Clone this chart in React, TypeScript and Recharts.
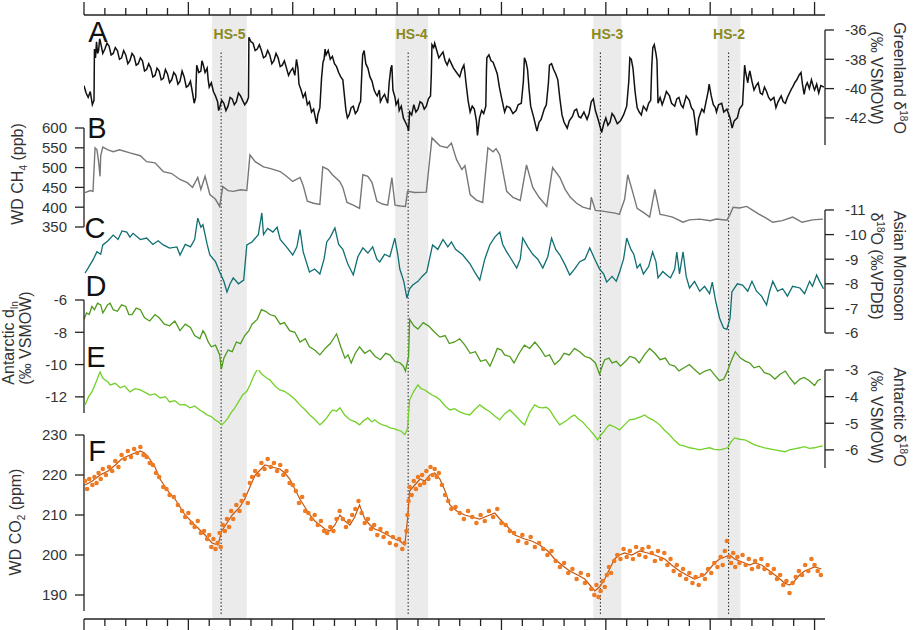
import React from "react";
import { ComposedChart, Line, Scatter, XAxis, YAxis, ReferenceArea, ReferenceLine } from "recharts";

// Layered proxy records, age in ka (older on the left). Each panel is its own chart stacked on one frame.
const W = 923, H = 630;
const PL = 84, PR = 98; // plot gutters so every panel shares the same x scale
const FONT = "'Liberation Sans', Arial, Helvetica, sans-serif";
const AGE_DOMAIN = [19.5, 55];
const AGE_TICKS = [55, 54, 53, 52, 51, 50, 49, 48, 47, 46, 45, 44, 43, 42, 41, 40, 39, 38, 37, 36, 35,
  34, 33, 32, 31, 30, 29, 28, 27, 26, 25, 24, 23, 22, 21, 20];

const HS_NAMES = ["HS-5", "HS-4", "HS-3", "HS-2"];
const HS_START = [48.86, 40.09, 30.6, 24.65];
const HS_END = [47.2, 38.51, 29.26, 23.55];
const HS_MARK = [48.43, 39.47, 30.26, 24.12];

// A — Greenland δ18O (‰)
const greenland = [[55.0,-39.8],[54.9,-40.3],[54.8,-40.6],[54.7,-40.2],[54.6,-41.1],[54.52,-40.8],[54.5,-37.3],[54.45,-37.9],[54.4,-36.8],[54.35,-37.6],[54.3,-37.4],[54.25,-36.6],[54.2,-36.9],[54.1,-37.6],[54.0,-37.3],[53.9,-36.9],[53.8,-37.1],[53.7,-37.7],[53.6,-37.6],[53.5,-37.2],[53.4,-37.4],[53.3,-38.0],[53.2,-37.9],[53.1,-37.4],[53.0,-37.7],[52.9,-38.3],[52.8,-38.1],[52.7,-37.6],[52.6,-37.8],[52.5,-38.4],[52.4,-38.3],[52.3,-37.9],[52.2,-38.1],[52.1,-38.8],[52.0,-38.7],[51.9,-38.3],[51.8,-38.6],[51.7,-39.2],[51.6,-39.1],[51.5,-38.6],[51.4,-38.8],[51.3,-39.4],[51.2,-39.3],[51.1,-38.7],[51.0,-39.0],[50.9,-39.6],[50.8,-39.4],[50.7,-38.9],[50.6,-39.1],[50.5,-39.7],[50.4,-39.5],[50.3,-38.8],[50.2,-39.2],[50.1,-39.9],[50.0,-39.8],[49.9,-39.5],[49.8,-40.3],[49.72,-41.0],[49.65,-40.6],[49.6,-38.4],[49.5,-38.9],[49.4,-38.8],[49.35,-38.1],[49.3,-38.3],[49.2,-38.9],[49.1,-38.6],[49.05,-39.4],[49.0,-39.9],[48.9,-39.6],[48.8,-40.2],[48.7,-40.5],[48.6,-40.9],[48.55,-41.5],[48.5,-41.3],[48.4,-40.8],[48.3,-41.0],[48.2,-41.5],[48.1,-41.2],[48.0,-40.6],[47.9,-40.7],[47.8,-41.1],[47.7,-40.9],[47.6,-40.3],[47.5,-40.5],[47.4,-40.8],[47.3,-41.1],[47.2,-40.9],[47.12,-40.6],[47.1,-36.5],[47.0,-36.8],[46.9,-36.9],[46.8,-37.4],[46.7,-37.3],[46.6,-37.0],[46.5,-37.4],[46.4,-37.9],[46.3,-37.8],[46.2,-37.4],[46.1,-37.7],[46.0,-38.3],[45.9,-38.1],[45.8,-37.6],[45.7,-37.9],[45.6,-38.5],[45.5,-38.4],[45.4,-38.1],[45.3,-38.6],[45.2,-39.1],[45.1,-38.8],[45.0,-38.6],[44.9,-39.1],[44.82,-38.0],[44.75,-38.6],[44.7,-39.7],[44.6,-40.1],[44.5,-40.6],[44.4,-40.3],[44.3,-41.1],[44.2,-40.9],[44.1,-41.6],[44.0,-41.4],[43.9,-42.1],[43.85,-42.4],[43.8,-41.8],[43.7,-41.3],[43.62,-39.3],[43.55,-38.2],[43.5,-38.0],[43.45,-37.3],[43.4,-37.7],[43.3,-37.4],[43.2,-38.0],[43.1,-37.8],[43.0,-38.3],[42.9,-38.5],[42.8,-38.9],[42.7,-39.2],[42.6,-39.4],[42.5,-40.8],[42.45,-41.5],[42.38,-42.0],[42.3,-41.8],[42.2,-41.3],[42.1,-41.2],[42.0,-41.7],[41.9,-41.5],[41.8,-41.0],[41.75,-40.9],[41.68,-38.6],[41.65,-37.7],[41.58,-37.4],[41.5,-38.3],[41.4,-38.6],[41.3,-39.2],[41.2,-39.5],[41.1,-40.1],[41.0,-40.4],[40.95,-40.5],[40.85,-40.1],[40.8,-40.9],[40.7,-40.6],[40.6,-40.4],[40.5,-40.8],[40.45,-41.0],[40.38,-39.6],[40.3,-38.6],[40.25,-38.4],[40.2,-40.1],[40.1,-40.6],[40.05,-41.1],[39.95,-40.8],[39.9,-41.5],[39.8,-41.2],[39.7,-42.0],[39.6,-42.3],[39.5,-42.6],[39.45,-42.9],[39.4,-41.6],[39.3,-41.8],[39.2,-41.1],[39.1,-41.6],[39.0,-41.4],[38.9,-40.9],[38.8,-41.0],[38.7,-41.4],[38.6,-41.2],[38.5,-40.7],[38.4,-40.5],[38.36,-39.0],[38.33,-37.0],[38.25,-37.2],[38.2,-36.9],[38.1,-37.4],[38.0,-37.9],[37.9,-37.7],[37.8,-37.5],[37.7,-38.1],[37.6,-38.4],[37.5,-38.0],[37.4,-38.3],[37.3,-38.6],[37.15,-38.9],[37.0,-39.2],[36.9,-38.7],[36.8,-38.4],[36.75,-38.9],[36.7,-39.6],[36.6,-40.8],[36.5,-41.6],[36.4,-41.2],[36.3,-41.4],[36.2,-42.2],[36.15,-43.2],[36.05,-42.0],[35.95,-41.5],[35.85,-41.7],[35.75,-41.2],[35.72,-38.8],[35.7,-37.9],[35.6,-37.7],[35.5,-38.1],[35.4,-38.2],[35.3,-38.6],[35.2,-39.0],[35.1,-39.9],[35.0,-40.6],[34.85,-41.6],[34.75,-41.2],[34.6,-41.3],[34.45,-41.7],[34.3,-41.5],[34.2,-41.1],[34.05,-41.0],[33.95,-39.5],[33.9,-37.9],[33.82,-38.2],[33.75,-38.7],[33.68,-40.0],[33.6,-41.2],[33.45,-42.0],[33.3,-42.9],[33.2,-42.3],[33.1,-42.1],[32.95,-41.4],[32.85,-41.1],[32.75,-39.6],[32.7,-38.4],[32.6,-38.3],[32.5,-38.7],[32.4,-39.0],[32.3,-39.4],[32.2,-40.7],[32.1,-41.8],[32.0,-42.3],[31.85,-42.7],[31.75,-42.2],[31.6,-41.9],[31.5,-41.5],[31.4,-41.4],[31.3,-41.9],[31.2,-42.0],[31.05,-41.6],[30.9,-42.1],[30.8,-41.7],[30.7,-40.9],[30.6,-40.7],[30.5,-41.5],[30.35,-42.2],[30.2,-43.0],[30.1,-42.4],[30.0,-42.0],[29.9,-42.5],[29.8,-42.3],[29.7,-41.7],[29.6,-41.9],[29.45,-42.4],[29.3,-42.2],[29.15,-41.8],[29.0,-41.2],[28.9,-39.5],[28.85,-37.9],[28.78,-38.0],[28.7,-38.6],[28.6,-40.2],[28.5,-41.3],[28.4,-41.6],[28.3,-41.8],[28.2,-41.2],[28.05,-41.5],[27.95,-41.0],[27.85,-40.8],[27.8,-38.5],[27.75,-37.2],[27.68,-37.0],[27.6,-37.6],[27.55,-38.1],[27.5,-41.0],[27.4,-40.6],[27.3,-41.1],[27.2,-40.7],[27.1,-40.2],[26.95,-40.5],[26.85,-41.0],[26.7,-41.2],[26.6,-40.7],[26.5,-40.6],[26.4,-41.1],[26.3,-41.3],[26.15,-40.5],[26.0,-40.8],[25.9,-41.3],[25.8,-41.5],[25.72,-42.3],[25.65,-43.2],[25.55,-42.0],[25.4,-41.4],[25.3,-41.6],[25.2,-40.9],[25.1,-40.2],[25.05,-39.7],[24.95,-40.5],[24.85,-41.1],[24.75,-41.3],[24.7,-41.6],[24.6,-41.1],[24.45,-41.0],[24.35,-41.6],[24.2,-41.4],[24.05,-42.0],[23.95,-42.7],[23.85,-42.2],[23.7,-42.0],[23.6,-41.4],[23.45,-41.1],[23.4,-39.8],[23.35,-38.4],[23.3,-38.9],[23.2,-39.6],[23.15,-39.1],[23.1,-38.8],[23.0,-39.5],[22.9,-40.1],[22.8,-39.8],[22.7,-39.6],[22.6,-40.3],[22.5,-40.4],[22.4,-39.9],[22.3,-40.2],[22.2,-40.6],[22.1,-40.8],[21.95,-40.6],[21.85,-41.3],[21.75,-40.9],[21.6,-40.5],[21.5,-40.9],[21.4,-41.0],[21.3,-40.6],[21.2,-40.3],[21.1,-40.0],[21.05,-39.9],[20.95,-39.6],[20.85,-39.4],[20.75,-39.1],[20.65,-38.9],[20.58,-39.7],[20.5,-40.4],[20.42,-39.8],[20.35,-39.6],[20.25,-40.0],[20.15,-39.4],[20.05,-39.9],[20.0,-40.1],[19.9,-39.7],[19.8,-40.3],[19.7,-39.8],[19.55,-39.9]];

// B — WAIS Divide CH4 (ppb)
const ch4 = [[54.95,437],[54.7,442],[54.57,440],[54.47,550],[54.38,545],[54.3,515],[54.23,478],[54.2,530],[54.1,552],[53.85,545],[53.6,540],[53.3,545],[52.8,537],[52.3,530],[52.0,515],[51.6,512],[51.2,490],[50.8,485],[50.4,470],[50.05,462],[49.8,450],[49.55,475],[49.4,445],[49.2,478],[48.97,432],[48.7,420],[48.5,402],[48.35,452],[48.1,442],[47.85,440],[47.5,444],[47.2,442],[47.05,532],[46.8,515],[46.4,502],[46.1,498],[45.6,490],[45.3,478],[45.0,465],[44.65,475],[44.5,455],[44.3,415],[44.0,410],[43.7,407],[43.56,502],[43.3,495],[43.1,482],[42.75,465],[42.6,450],[42.4,412],[42.1,405],[41.8,397],[41.64,482],[41.4,478],[41.2,462],[40.97,415],[40.7,408],[40.45,405],[40.25,475],[40.1,405],[39.85,403],[39.6,402],[39.5,440],[39.15,437],[38.6,438],[38.33,575],[37.95,555],[37.6,550],[37.4,562],[37.15,520],[36.9,495],[36.75,505],[36.5,432],[36.2,418],[35.9,412],[35.65,550],[35.4,540],[35.26,548],[35.08,532],[34.75,440],[34.45,425],[34.1,417],[33.8,507],[33.5,450],[33.2,425],[32.83,402],[32.55,500],[32.2,475],[31.95,445],[31.7,425],[31.4,410],[31.1,400],[30.75,395],[30.7,425],[30.5,392],[30.15,390],[29.8,387],[29.55,385],[29.35,382],[29.1,420],[28.95,482],[28.75,445],[28.5,397],[28.15,385],[27.9,375],[27.65,445],[27.4,382],[27.2,380],[26.8,375],[26.3,362],[26.0,368],[25.5,370],[25.0,366],[24.7,370],[24.2,367],[24.05,382],[23.9,400],[23.6,398],[23.25,402],[22.9,390],[22.65,382],[22.3,372],[22.0,362],[21.55,366],[21.05,375],[20.8,368],[20.6,362],[20.1,368],[19.6,370]];

// C — Asian monsoon speleothem δ18O (‰ VPDB)
const monsoon = [[54.95,-8.44],[54.76,-8.7],[54.57,-8.97],[54.38,-9.3],[54.2,-9.2],[54.1,-9.58],[53.85,-9.75],[53.6,-9.98],[53.37,-9.8],[53.18,-10.15],[52.95,-10.1],[52.8,-9.9],[52.65,-10.05],[52.3,-9.8],[52.0,-9.86],[51.7,-9.6],[51.45,-9.75],[51.2,-9.58],[50.9,-9.45],[50.55,-9.5],[50.4,-9.17],[50.15,-9.6],[49.9,-9.5],[49.7,-9.8],[49.55,-10.67],[49.4,-10.3],[49.3,-10.4],[49.1,-9.6],[48.97,-9.17],[48.7,-8.9],[48.5,-8.48],[48.3,-8.1],[48.15,-7.67],[48.0,-8.0],[47.85,-8.24],[47.6,-8.0],[47.35,-8.15],[47.2,-9.58],[46.95,-9.7],[46.65,-10.0],[46.48,-10.88],[46.4,-10.0],[46.2,-10.25],[45.95,-10.1],[45.75,-10.3],[45.6,-9.8],[45.3,-9.5],[45.0,-9.17],[44.8,-9.5],[44.65,-10.2],[44.5,-9.3],[44.2,-8.48],[43.95,-8.6],[43.7,-8.4],[43.5,-9.0],[43.37,-9.7],[43.2,-9.9],[42.98,-10.27],[42.8,-9.6],[42.6,-9.4],[42.36,-8.8],[42.1,-8.36],[41.88,-9.1],[41.64,-9.46],[41.4,-9.25],[41.17,-9.5],[40.97,-9.0],[40.83,-8.89],[40.6,-9.2],[40.35,-9.1],[40.11,-9.86],[39.97,-9.2],[39.87,-8.6],[39.68,-8.1],[39.53,-7.42],[39.4,-7.8],[39.25,-7.95],[39.0,-8.1],[38.8,-8.3],[38.58,-8.48],[38.3,-9.58],[38.05,-9.4],[37.8,-9.8],[37.57,-9.5],[37.4,-9.7],[37.2,-9.4],[36.85,-9.17],[36.5,-8.8],[36.23,-8.4],[36.04,-8.15],[35.8,-9.0],[35.56,-9.58],[35.32,-9.9],[35.08,-10.1],[34.94,-9.6],[34.75,-9.3],[34.6,-9.1],[34.27,-8.64],[34.1,-9.0],[33.98,-9.86],[33.74,-9.5],[33.5,-9.2],[33.26,-9.0],[33.02,-8.64],[32.78,-9.1],[32.6,-9.86],[32.4,-9.4],[32.2,-9.17],[31.97,-8.8],[31.73,-8.36],[31.5,-8.6],[31.25,-8.9],[31.0,-9.0],[30.77,-9.46],[30.53,-9.0],[30.3,-8.6],[30.1,-8.4],[29.96,-8.07],[29.7,-8.3],[29.5,-8.1],[29.34,-8.48],[29.15,-9.0],[29.0,-9.86],[28.8,-9.4],[28.66,-9.2],[28.5,-8.64],[28.36,-8.8],[28.2,-8.4],[27.95,-8.7],[27.76,-9.29],[27.6,-8.9],[27.5,-8.24],[27.27,-8.5],[27.0,-8.3],[26.9,-8.24],[26.7,-8.6],[26.6,-9.29],[26.47,-8.4],[26.3,-9.3],[26.15,-8.3],[25.99,-7.83],[25.75,-8.1],[25.5,-7.7],[25.27,-7.9],[25.03,-7.6],[24.9,-8.07],[24.74,-7.3],[24.55,-6.6],[24.36,-6.2],[24.2,-6.15],[24.05,-6.6],[23.96,-7.67],[23.7,-8.0],[23.45,-7.95],[23.2,-7.7],[23.0,-8.1],[22.78,-7.7],[22.54,-7.5],[22.3,-7.14],[22.15,-7.7],[22.0,-8.1],[21.77,-7.7],[21.53,-7.8],[21.3,-7.5],[21.05,-7.9],[20.7,-7.83],[20.48,-7.6],[20.24,-8.1],[20.1,-7.9],[19.9,-8.36],[19.76,-8.1],[19.57,-7.8]];

// D — Antarctic dln (‰)
const dln = [[55.0,-7.2],[54.88,-6.8],[54.75,-6.9],[54.62,-6.4],[54.5,-6.6],[54.35,-6.2],[54.2,-6.3],[54.1,-6.8],[54.0,-6.6],[53.88,-6.3],[53.75,-6.2],[53.6,-6.6],[53.4,-6.7],[53.2,-6.3],[53.0,-6.4],[52.85,-6.9],[52.7,-6.9],[52.5,-6.5],[52.3,-6.6],[52.1,-7.1],[51.85,-7.3],[51.6,-6.9],[51.4,-7.1],[51.15,-7.5],[50.9,-7.6],[50.65,-7.3],[50.4,-7.9],[50.15,-7.5],[49.9,-7.7],[49.7,-8.2],[49.45,-8.4],[49.3,-7.9],[49.2,-8.1],[49.05,-8.6],[48.9,-8.9],[48.7,-8.8],[48.5,-9.4],[48.42,-10.3],[48.3,-9.6],[48.1,-9.1],[47.9,-9.2],[47.7,-8.6],[47.5,-8.7],[47.3,-8.2],[47.1,-7.9],[46.95,-7.5],[46.7,-7.2],[46.5,-6.6],[46.3,-6.7],[46.1,-6.9],[45.85,-7.0],[45.6,-7.5],[45.4,-7.4],[45.15,-7.9],[44.9,-8.0],[44.65,-8.6],[44.4,-8.4],[44.2,-8.9],[43.95,-9.1],[43.7,-9.4],[43.45,-9.0],[43.2,-8.7],[43.05,-8.4],[42.9,-8.1],[42.7,-8.9],[42.5,-9.6],[42.35,-9.4],[42.2,-9.9],[42.0,-9.3],[41.8,-8.9],[41.55,-9.3],[41.3,-9.1],[41.05,-9.5],[40.8,-9.7],[40.55,-9.3],[40.35,-9.4],[40.1,-9.8],[39.85,-9.9],[39.7,-10.1],[39.6,-10.4],[39.45,-9.5],[39.4,-7.2],[39.2,-7.6],[39.0,-7.8],[38.75,-7.4],[38.5,-7.6],[38.2,-8.0],[37.95,-8.3],[37.7,-8.2],[37.5,-8.7],[37.25,-8.6],[37.0,-8.4],[36.75,-8.8],[36.5,-9.3],[36.25,-9.2],[36.0,-9.8],[35.75,-9.7],[35.55,-10.1],[35.35,-9.5],[35.2,-9.0],[35.0,-9.1],[34.85,-9.4],[34.6,-9.5],[34.4,-9.9],[34.15,-9.3],[33.9,-8.8],[33.65,-9.0],[33.4,-8.6],[33.15,-9.0],[32.9,-9.5],[32.7,-9.4],[32.45,-10.0],[32.2,-9.7],[32.0,-9.3],[31.75,-9.4],[31.5,-9.0],[31.25,-9.2],[31.0,-9.5],[30.75,-9.6],[30.5,-9.9],[30.3,-10.6],[30.15,-10.0],[30.05,-9.7],[29.85,-9.6],[29.7,-9.9],[29.5,-9.8],[29.3,-10.1],[29.05,-9.8],[28.85,-9.5],[28.6,-9.6],[28.4,-9.9],[28.15,-9.4],[27.9,-9.0],[27.65,-9.3],[27.4,-9.7],[27.15,-9.6],[26.95,-10.0],[26.7,-10.1],[26.5,-10.4],[26.25,-10.2],[26.0,-10.0],[25.75,-10.3],[25.5,-10.6],[25.25,-10.4],[25.0,-10.3],[24.75,-10.7],[24.55,-11.0],[24.35,-10.9],[24.2,-10.5],[24.0,-9.8],[23.8,-9.2],[23.55,-9.6],[23.3,-9.8],[23.1,-9.9],[22.9,-10.2],[22.65,-10.1],[22.4,-10.5],[22.15,-10.6],[21.9,-10.9],[21.65,-10.6],[21.4,-10.4],[21.2,-10.8],[20.95,-11.2],[20.7,-10.9],[20.5,-10.8],[20.25,-11.0],[20.0,-11.3],[19.85,-11.0],[19.7,-10.9]];

// E — Antarctic δ18O (‰ VSMOW)
const antO18 = [[54.95,-4.31],[54.78,-4.0],[54.62,-3.82],[54.42,-3.45],[54.23,-3.07],[54.1,-3.3],[54.0,-3.37],[53.85,-3.45],[53.75,-3.56],[53.5,-3.5],[53.27,-3.67],[53.05,-3.6],[52.8,-3.82],[52.55,-3.7],[52.3,-3.75],[52.05,-3.85],[51.85,-3.94],[51.6,-3.9],[51.35,-4.05],[51.1,-4.0],[50.9,-4.2],[50.65,-4.15],[50.4,-4.31],[50.15,-4.3],[49.92,-4.42],[49.7,-4.35],[49.45,-4.5],[49.25,-4.6],[49.1,-4.69],[48.9,-4.75],[48.73,-4.87],[48.55,-4.95],[48.4,-5.06],[48.25,-4.95],[48.1,-4.8],[47.95,-4.6],[47.77,-4.42],[47.6,-4.2],[47.4,-3.94],[47.2,-3.8],[47.05,-3.56],[46.85,-3.2],[46.67,-2.93],[46.55,-3.1],[46.43,-3.19],[46.25,-3.3],[46.1,-3.37],[45.85,-3.6],[45.62,-3.75],[45.4,-3.8],[45.14,-3.94],[44.9,-4.1],[44.66,-4.31],[44.4,-4.5],[44.18,-4.69],[43.95,-4.85],[43.7,-5.06],[43.55,-4.95],[43.37,-4.8],[43.2,-4.6],[43.08,-4.5],[42.9,-4.55],[42.74,-4.42],[42.5,-4.7],[42.26,-4.87],[42.0,-4.95],[41.8,-5.06],[41.6,-4.9],[41.4,-4.8],[41.2,-4.95],[41.07,-4.87],[40.9,-4.98],[40.7,-5.06],[40.5,-5.1],[40.35,-5.17],[40.15,-5.2],[40.0,-5.25],[39.8,-5.3],[39.63,-5.43],[39.5,-5.2],[39.4,-4.12],[39.2,-3.8],[39.0,-3.56],[38.85,-3.7],[38.67,-3.75],[38.5,-3.85],[38.33,-3.94],[38.15,-4.0],[37.95,-4.12],[37.7,-4.35],[37.47,-4.5],[37.25,-4.45],[37.0,-4.57],[36.75,-4.65],[36.52,-4.69],[36.3,-4.5],[36.04,-4.31],[35.8,-4.45],[35.56,-4.57],[35.3,-4.75],[35.08,-4.87],[34.85,-4.65],[34.6,-4.5],[34.4,-4.65],[34.22,-4.8],[34.05,-4.95],[33.89,-5.06],[33.65,-4.6],[33.41,-4.31],[33.2,-4.4],[33.03,-4.42],[32.85,-4.4],[32.69,-4.5],[32.45,-4.8],[32.21,-5.06],[32.0,-4.95],[31.83,-4.87],[31.65,-4.75],[31.5,-4.69],[31.3,-4.85],[31.11,-4.95],[30.95,-5.1],[30.77,-5.25],[30.55,-5.45],[30.39,-5.62],[30.25,-5.45],[30.1,-5.32],[29.95,-5.15],[29.82,-5.06],[29.55,-5.15],[29.34,-5.25],[29.1,-5.05],[28.86,-4.87],[28.65,-4.85],[28.48,-4.8],[28.3,-4.75],[28.14,-4.69],[27.95,-4.8],[27.76,-4.87],[27.6,-4.95],[27.42,-5.06],[27.2,-5.25],[26.95,-5.43],[26.7,-5.65],[26.47,-5.81],[26.25,-5.85],[25.99,-5.92],[25.75,-5.95],[25.5,-6.0],[25.25,-5.95],[25.03,-5.92],[24.8,-5.98],[24.55,-6.0],[24.35,-5.96],[24.16,-5.92],[24.0,-5.7],[23.83,-5.55],[23.6,-5.6],[23.35,-5.62],[23.1,-5.72],[22.87,-5.81],[22.6,-5.88],[22.39,-5.92],[22.15,-5.96],[21.91,-6.0],[21.65,-6.04],[21.43,-6.07],[21.2,-6.0],[20.95,-5.96],[20.7,-5.92],[20.48,-5.88],[20.25,-5.94],[20.0,-5.92],[19.8,-5.88],[19.6,-5.85]];

// F — WAIS Divide CO2 (ppm): smoothed curve and individual measurements
const co2Curve = [[54.95,217.5],[54.6,218.5],[54.23,220],[53.85,221],[53.5,222.5],[53.2,224],[52.8,225],[52.3,226],[52.1,225.5],[51.85,224],[51.6,222],[51.36,219],[50.98,216],[50.64,214],[50.16,210],[49.69,207.5],[49.2,205],[48.87,203],[48.58,202.5],[48.4,206],[48.15,208],[47.9,210],[47.53,212],[47.3,214],[47.05,217],[46.8,220],[46.33,222.5],[46.0,222],[45.62,221.5],[45.38,220.5],[45.14,219],[44.9,216.5],[44.66,214],[44.42,212],[44.18,210],[43.94,208.5],[43.7,207.5],[43.46,206.5],[43.22,206],[42.98,207.5],[42.74,210],[42.5,208.5],[42.26,207.5],[42.03,209.5],[41.8,212.5],[41.55,209],[41.3,207.5],[41.07,206.5],[40.83,206],[40.45,205],[40.1,204],[39.87,203.5],[39.63,202.5],[39.5,209],[39.4,216],[39.15,217.5],[38.9,219],[38.67,218.5],[38.43,220],[38.2,220.5],[37.95,219],[37.7,216],[37.47,212.5],[37.14,211],[36.76,210],[36.42,209.5],[36.04,209],[35.8,209.5],[35.56,210],[35.32,210.5],[35.08,209],[34.7,207],[34.36,205],[33.89,204],[33.55,203.5],[33.17,202.5],[32.78,201],[32.45,199],[32.11,197.5],[31.73,196],[31.35,195],[31.01,194],[30.77,192.5],[30.53,191],[30.3,192],[30.05,194],[29.82,196.5],[29.58,199],[29.34,200],[29.1,200.5],[28.76,200],[28.38,201],[28.0,200.5],[27.66,200],[27.42,199.5],[27.18,199],[26.85,197.5],[26.47,196],[26.13,195],[25.75,194],[25.5,194.5],[25.27,195],[25.03,196.5],[24.79,198],[24.55,199],[24.3,199.5],[24.07,200],[23.83,199],[23.59,198.5],[23.35,198],[23.11,197.5],[22.87,198],[22.54,197.5],[22.16,196],[21.77,194.5],[21.44,193],[21.2,192.5],[20.96,193.5],[20.72,195],[20.48,196],[20.24,196.5],[20.0,197],[19.67,196.5]];
const co2Samples = [[54.95,218.5],[54.85,216.5],[54.75,219],[54.6,217.5],[54.5,219.5],[54.4,218],[54.3,220.5],[54.2,219],[54.1,221.5],[53.95,220],[53.8,222],[53.65,221],[53.5,223.5],[53.35,222],[53.2,225],[53.05,224],[52.9,226],[52.75,224.5],[52.6,226.5],[52.45,225.5],[52.3,227],[52.15,225],[52.0,224.5],[51.85,223],[51.7,222.5],[51.55,220.5],[51.4,219.5],[51.2,217],[51.05,216.5],[50.9,215],[50.7,214.5],[50.5,212.5],[50.3,211],[50.15,209.5],[50.0,210.5],[49.85,208],[49.7,207],[49.55,208.5],[49.4,205.5],[49.25,206],[49.1,204],[49.0,205],[48.9,202],[48.8,204],[48.7,201.5],[48.6,203],[48.5,205.5],[48.45,202],[48.35,207.5],[48.25,206],[48.15,209],[48.05,207],[47.95,211],[47.85,209],[47.7,212.5],[47.55,211],[47.45,213.5],[47.3,215],[47.15,213],[47.05,218],[46.95,219.5],[46.8,221],[46.65,220],[46.5,223],[46.35,221.5],[46.2,224],[46.05,222],[45.9,223],[45.75,221],[45.6,222.5],[45.45,220],[45.3,221],[45.15,218],[45.0,217.5],[44.85,216],[44.7,213],[44.55,214.5],[44.4,211],[44.25,210.5],[44.1,209],[43.95,210],[43.8,207.5],[43.65,208.5],[43.5,206],[43.35,205.5],[43.2,207],[43.05,206],[42.9,209],[42.75,211],[42.6,209],[42.45,207],[42.3,208.5],[42.15,210],[42.0,211.5],[41.85,213.5],[41.7,210.5],[41.55,208],[41.4,209],[41.25,206.5],[41.1,207.5],[40.95,205],[40.8,206.5],[40.65,204.5],[40.5,205.5],[40.35,203],[40.2,204.5],[40.05,202.5],[39.9,204],[39.75,201.5],[39.65,203],[39.55,206],[39.5,210],[39.45,213.5],[39.4,217],[39.3,215],[39.2,218.5],[39.1,216.5],[39.0,219.5],[38.9,217.5],[38.8,220],[38.7,218],[38.6,221],[38.5,219],[38.4,222],[38.3,220],[38.2,221.5],[38.1,219.5],[38.0,220.5],[37.85,217.5],[37.7,215],[37.55,213.5],[37.4,211.5],[37.2,212],[37.0,210.5],[36.8,209],[36.6,211],[36.4,209.5],[36.2,208],[36.0,210],[35.8,208.5],[35.6,211],[35.4,209.5],[35.2,211.5],[35.0,208],[34.8,207.5],[34.6,206],[34.4,205.5],[34.2,203.5],[34.0,205],[33.8,203],[33.6,204.5],[33.4,202],[33.2,203],[33.0,201.5],[32.8,200],[32.6,201],[32.4,198.5],[32.2,197],[32.0,198],[31.8,195.5],[31.6,196.5],[31.4,194],[31.2,195.5],[31.0,193],[30.85,195],[30.7,191.5],[30.55,190],[30.45,192.5],[30.35,189.5],[30.25,191],[30.15,193.5],[30.05,192],[29.95,195],[29.85,197],[29.75,195.5],[29.6,198.5],[29.45,200],[29.3,199],[29.15,201.5],[29.0,199.5],[28.85,201],[28.7,199],[28.55,202],[28.4,200],[28.25,201.5],[28.1,199.5],[27.95,202],[27.8,200.5],[27.65,198.5],[27.5,201],[27.35,199],[27.2,200.5],[27.05,197.5],[26.9,199],[26.75,196],[26.6,197.5],[26.45,195],[26.3,196.5],[26.15,194],[26.0,195.5],[25.85,193],[25.7,194.5],[25.55,192.5],[25.4,195],[25.25,194],[25.1,196.5],[24.95,195.5],[24.8,198],[24.65,197],[24.5,199.5],[24.4,197.5],[24.3,201],[24.2,203.5],[24.1,199.5],[24.0,198],[23.9,200.5],[23.8,197],[23.7,199.5],[23.6,198],[23.45,200],[23.3,197.5],[23.15,199],[23.0,196.5],[22.85,198.5],[22.7,197],[22.55,199],[22.4,196.5],[22.25,197.5],[22.1,195.5],[21.95,196.5],[21.8,194],[21.65,195],[21.5,192.5],[21.35,193.5],[21.2,190.5],[21.05,193],[20.9,194.5],[20.75,196],[20.6,195],[20.45,197.5],[20.3,196],[20.15,199],[20.0,197.5],[19.85,196],[19.7,195]];

const pts = (a: number[][]) => a.map(([age, v]) => ({ age, v }));
// the frame charts draw no series; they only need rows so the axis scales resolve
const hsRows = HS_MARK.map((age, i) => ({ age, name: HS_NAMES[i], v: 0 }));

const ageTick = (dir: number) => (p: any) => {
  const major = Math.round(p.payload.value) % 5 === 0;
  return <line x1={p.x} x2={p.x} y1={p.y} y2={p.y + dir * (major ? 13 : 7)} stroke="#222" strokeWidth={1.3} />;
};

function Frame() {
  return (
    <ComposedChart width={W} height={H} data={hsRows} margin={{ top: 0, bottom: 0, left: PL, right: PR }}>
      <XAxis xAxisId="t" dataKey="age" orientation="top" type="number" domain={AGE_DOMAIN} reversed allowDataOverflow
             ticks={AGE_TICKS} interval={0} height={15} tickSize={0} tickMargin={0}
             tick={ageTick(-1)} tickLine={false} axisLine={{ stroke: "#222", strokeWidth: 1.3 }} />
      <XAxis xAxisId="b" dataKey="age" orientation="bottom" type="number" domain={AGE_DOMAIN} reversed allowDataOverflow
             ticks={AGE_TICKS} interval={0} height={11} tickSize={0} tickMargin={0}
             tick={ageTick(1)} tickLine={false} axisLine={{ stroke: "#222", strokeWidth: 1.3 }} />
      <YAxis hide dataKey="v" type="number" domain={[0, 1]} allowDataOverflow />
      {HS_NAMES.map((n, i) => (
        <ReferenceArea key={n} xAxisId="t" x1={HS_START[i]} x2={HS_END[i]} fill="#ebebeb" fillOpacity={1} stroke="none"
          ifOverflow="visible"
          label={{ value: n, position: "insideTop", offset: 14, fill: "#8a8a1c", fontSize: 14, fontWeight: 700, fontFamily: FONT }} />
      ))}
    </ComposedChart>
  );
}

function Markers() {
  return (
    <ComposedChart width={W} height={H} data={hsRows} margin={{ top: 52, bottom: 16, left: PL, right: PR }}>
      <XAxis type="number" dataKey="age" domain={AGE_DOMAIN} reversed allowDataOverflow hide />
      <YAxis hide dataKey="v" type="number" domain={[0, 1]} allowDataOverflow />
      {HS_MARK.map((a) => (
        <ReferenceLine key={a} x={a} stroke="#333" strokeWidth={1.1} strokeDasharray="1.5 2" ifOverflow="visible" />
      ))}
    </ComposedChart>
  );
}

type PanelProps = {
  series: number[][]; color: string; side: "left" | "right"; domain: number[]; ticks: number[];
  top: number; bottom: number; sw?: number; reversed?: boolean; samples?: number[][];
};

function Panel({ series, color, side, domain, ticks, top, bottom, sw = 1.3, reversed = false, samples }: PanelProps) {
  return (
    <ComposedChart width={W} height={H} data={pts(series)}
      margin={{ top, bottom: H - bottom, left: side === "left" ? 0 : PL, right: side === "right" ? 0 : PR }}>
      <XAxis type="number" dataKey="age" domain={AGE_DOMAIN} reversed allowDataOverflow hide />
      <YAxis orientation={side} width={side === "left" ? PL : PR} type="number" dataKey="v" domain={domain}
             ticks={ticks} interval={0} allowDataOverflow reversed={reversed}
             tick={{ fill: "#333", fontSize: 15, fontFamily: FONT }} tickSize={9} tickMargin={side === "left" ? 8 : 11}
             axisLine={{ stroke: "#222", strokeWidth: 1.3 }} tickLine={{ stroke: "#222", strokeWidth: 1.3 }} />
      {samples && (
        <Scatter data={pts(samples)} dataKey="v" fill="#ee7a22" shape={(p: any) => <circle cx={p.cx} cy={p.cy} r={2.3} fill="#ee7a22" />}
                 isAnimationActive={false} />
      )}
      <Line type="linear" dataKey="v" stroke={color} strokeWidth={sw} dot={false} isAnimationActive={false} />
    </ComposedChart>
  );
}

const layer: React.CSSProperties = { position: "absolute", left: 0, top: 0 };

const Letter = ({ x, y, t }: { x: number; y: number; t: string }) => (
  <div style={{ position: "absolute", left: x, top: y, transform: "translate(-50%,-50%)", fontSize: 29, lineHeight: 1, fontFamily: FONT, color: "#111" }}>{t}</div>
);

const VTitle = ({ x, y, angle, lh = 23, align = "center", children }:
  { x: number; y: number; angle: number; lh?: number; align?: "center" | "left"; children: React.ReactNode }) => (
  <div style={{ position: "absolute", left: x, top: y, transform: `translate(-50%,-50%) rotate(${angle}deg)`, whiteSpace: "nowrap",
    textAlign: align, fontSize: 16, lineHeight: `${lh}px`, color: "#333", fontFamily: FONT }}>{children}</div>
);

const sup = { fontSize: 10, verticalAlign: "super", lineHeight: 0 } as React.CSSProperties;
const sub = { fontSize: 10, verticalAlign: "sub", lineHeight: 0 } as React.CSSProperties;

export default function App() {
  return (
    <div style={{ position: "absolute", left: 0, top: 0, width: W, height: H, background: "#fff", overflow: "hidden" }}>
      <div style={layer}><Frame /></div>
      <div style={layer}><Markers /></div>
      <div style={layer}><Panel series={greenland} color="#111" side="right" domain={[-43.85, -36]} ticks={[-36, -38, -40, -42]} top={30} bottom={145} sw={1.5} /></div>
      <div style={layer}><Panel series={ch4} color="#777" side="left" domain={[350, 600]} ticks={[350, 400, 450, 500, 550, 600]} top={128} bottom={227} sw={1.4} /></div>
      <div style={layer}><Panel series={monsoon} color="#0f6e72" side="right" domain={[-11, -6]} ticks={[-11, -10, -9, -8, -7, -6]} top={210} bottom={333} reversed /></div>
      <div style={layer}><Panel series={dln} color="#4f9b1d" side="left" domain={[-13, -6]} ticks={[-6, -8, -10, -12]} top={300} bottom={413} /></div>
      <div style={layer}><Panel series={antO18} color="#72d128" side="right" domain={[-6.68, -3]} ticks={[-3, -4, -5, -6]} top={370} bottom={468} /></div>
      <div style={layer}><Panel series={co2Curve} samples={co2Samples} color="#c4560f" side="left" domain={[186, 230]} ticks={[190, 200, 210, 220, 230]} top={435} bottom={611} sw={1.2} /></div>

      <Letter x={98} y={32} t="A" />
      <Letter x={97} y={128} t="B" />
      <Letter x={95} y={228} t="C" />
      <Letter x={96} y={286} t="D" />
      <Letter x={96} y={357} t="E" />
      <Letter x={97} y={451} t="F" />

      <VTitle x={17} y={174} angle={-90}>WD CH<span style={sub}>4</span> (ppb)</VTitle>
      <VTitle x={17} y={338} angle={-90} lh={17} align="left">Antarctic d<span style={sub}>ln</span><br />(‰ VSMOW)</VTitle>
      <VTitle x={15} y={522} angle={-90}>WD CO<span style={sub}>2</span> (ppm)</VTitle>
      <VTitle x={888} y={78} angle={90}>Greenland δ<span style={sup}>18</span>O<br />(‰ VSMOW)</VTitle>
      <VTitle x={888} y={266} angle={90}>Asian Monsoon<br />δ<span style={sup}>18</span>O (‰VPDB)</VTitle>
      <VTitle x={888} y={417} angle={90}>Antarctic δ<span style={sup}>18</span>O<br />(‰ VSMOW)</VTitle>
    </div>
  );
}
